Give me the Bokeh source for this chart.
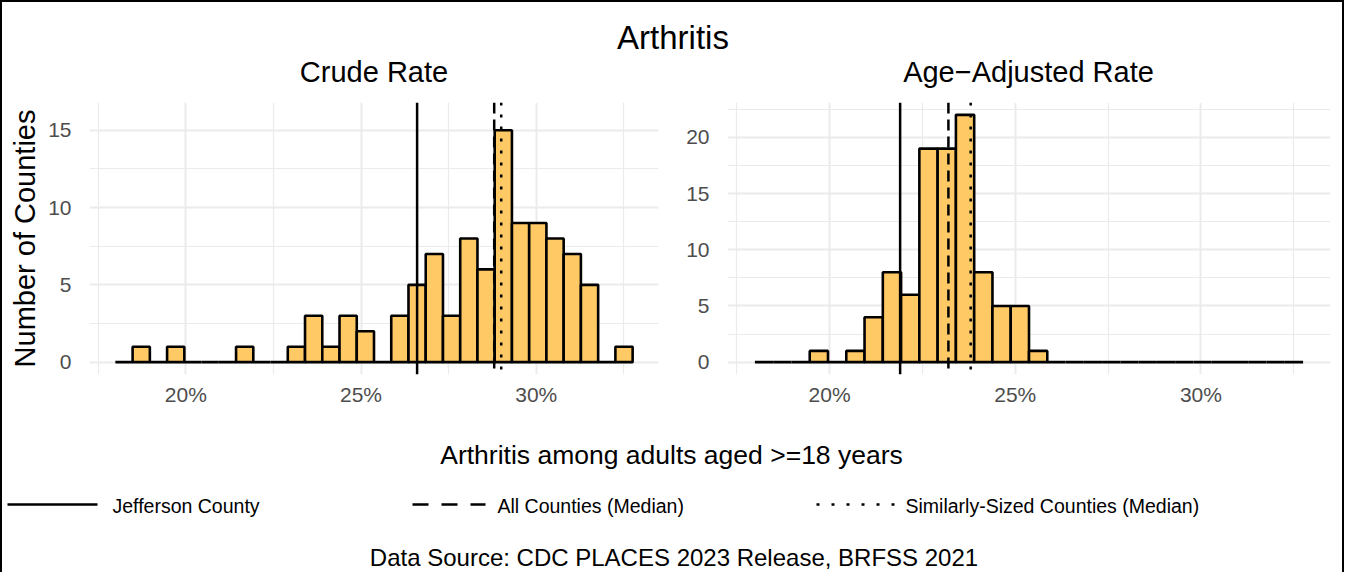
import numpy as np
from bokeh.plotting import figure
from bokeh.layouts import column, row
from bokeh.models import Range1d, FixedTicker, Span, ColumnDataSource
from bokeh.core.properties import value
from bokeh.embed import file_html
from bokeh.resources import INLINE

# ---------------- data ----------------
main_title = "Arthritis"
panel_titles = ["Crude Rate", "Age\u2212Adjusted Rate"]
x_title = "Arthritis among adults aged >=18 years"
y_title = "Number of Counties"
caption = "Data Source: CDC PLACES 2023 Release, BRFSS 2021"
legend_labels = ["Jefferson County", "All Counties (Median)", "Similarly-Sized Counties (Median)"]

bin_min = 17.99
bin_max = 32.75
crude_counts = [0, 1, 0, 1, 0, 0, 0, 1, 0, 0, 1, 3, 1, 3, 2, 0, 3, 5, 7, 3,
                8, 6, 15, 9, 9, 8, 7, 5, 0, 1]
age_adj_counts = [0, 0, 0, 1, 0, 1, 4, 8, 6, 19, 19, 22, 8, 5, 5, 1, 0, 0, 0, 0,
                  0, 0, 0, 0, 0, 0, 0, 0, 0, 0]
# reference lines: Jefferson County, All Counties median, Similarly-sized median
crude_lines = [26.6, 28.8, 29.0]
age_adj_lines = [21.9, 23.2, 23.8]
y_upper = [16, 22]

x_ticks = [20, 25, 30]
x_tick_labels = ["20%", "25%", "30%"]
x_minor = [17.5, 22.5, 27.5, 32.5]
crude_y_ticks = [0, 5, 10, 15]
crude_y_minor = [2.5, 7.5, 12.5]
adj_y_ticks = [0, 5, 10, 15, 20]
adj_y_minor = [2.5, 7.5, 12.5, 17.5, 22.5]

# ---------------- style ----------------
FONT = "Liberation Sans"
BAR = "#FFC966"
GRID = "#EBEBEB"
DASHES = ["solid", "11 6", "3 9"]
LEG_DASHES = ["solid", "16 13", "3 12"]


def hist_fig(counts, lines, ymax, yticks, yminor, width, mbl, mbr, ylabel=None):
    edges = np.linspace(bin_min, bin_max, len(counts) + 1)
    src = ColumnDataSource(dict(left=edges[:-1], right=edges[1:],
                                top=counts, bottom=[0] * len(counts)))
    pad = 0.05 * (bin_max - bin_min)
    p = figure(width=width, height=320, output_backend="svg", toolbar_location=None,
               x_range=Range1d(bin_min - pad, bin_max + pad),
               y_range=Range1d(-0.05 * ymax, 1.05 * ymax),
               min_border_left=mbl, min_border_right=mbr,
               min_border_top=0, min_border_bottom=48)
    p.outline_line_color = None
    p.background_fill_color = "white"
    p.border_fill_color = "white"
    p.quad(source=src, left="left", right="right", top="top", bottom="bottom",
           fill_color=BAR, line_color="black", line_width=2.6)
    for v, d in zip(lines, DASHES):
        p.add_layout(Span(location=v, dimension="height", line_color="black",
                          line_width=2.5, line_dash=d))
    p.xaxis.ticker = FixedTicker(ticks=x_ticks, minor_ticks=x_minor)
    p.xaxis.major_label_overrides = dict(zip(x_ticks, x_tick_labels))
    p.yaxis.ticker = FixedTicker(ticks=yticks, minor_ticks=yminor)
    for ax in (p.xaxis, p.yaxis):
        ax.axis_line_color = None
        ax.major_tick_line_color = None
        ax.minor_tick_line_color = None
        ax.major_tick_out = 0
        ax.major_tick_in = 0
        ax.major_label_text_font = FONT
        ax.major_label_text_font_size = "21px"
        ax.major_label_text_color = "#4D4D4D"
    p.xaxis.major_label_standoff = 4
    p.yaxis.major_label_standoff = 14
    for g in (p.xgrid, p.ygrid):
        g.grid_line_color = GRID
        g.grid_line_width = 2
        g.minor_grid_line_color = GRID
        g.minor_grid_line_width = 1.2
    if ylabel:
        p.yaxis.axis_label = ylabel
        p.yaxis.axis_label_text_font = FONT
        p.yaxis.axis_label_text_font_size = "29px"
        p.yaxis.axis_label_text_font_style = "normal"
        p.yaxis.axis_label_text_color = "black"
        p.yaxis.axis_label_standoff = 4
    return p


def blank_fig(height, y_top, y_bottom):
    p = figure(width=1340, height=height, output_backend="svg", toolbar_location=None,
               x_range=Range1d(10, 1350), y_range=Range1d(y_bottom, y_top),
               x_axis_type=None, y_axis_type=None, min_border=0)
    p.outline_line_color = None
    p.grid.visible = False
    p.background_fill_color = "white"
    p.border_fill_color = "white"
    return p


def label(p, xs, ys, texts, size, align="center"):
    p.text(x=xs, y=ys, text=texts, text_font=value(FONT), text_font_size=size,
           text_align=align, text_baseline="middle", text_color="black")


# header with main title and panel titles
header = blank_fig(100, 10, 110)
label(header, [680.5], [45], [main_title], "33px")
label(header, [381.5, 1036], [79, 79], panel_titles, "29px")

left = hist_fig(crude_counts, crude_lines, y_upper[0], crude_y_ticks, crude_y_minor,
                670, 87, 14, ylabel=y_title)
right = hist_fig(age_adj_counts, age_adj_lines, y_upper[1], adj_y_ticks, adj_y_minor,
                 670, 55, 12)

# footer: x title, legend, caption
footer = blank_fig(150, 430, 580)
label(footer, [679], [462], [x_title], "26.5px")
leg_x0 = [15, 420, 824]
leg_x1 = [105, 493, 902]
leg_tx = [120, 505, 913]
for x0, x1, d in zip(leg_x0, leg_x1, LEG_DASHES):
    footer.segment(x0=[x0], y0=[512], x1=[x1], y1=[512], line_color="black",
                   line_width=2.5, line_dash=d)
label(footer, leg_tx, [513, 513, 513], legend_labels, "19.5px", align="left")
label(footer, [681.5], [565], [caption], "24px")

layout = column(header, row(left, right), footer,
                styles={"border-top": "2px solid black",
                        "border-left": "2px solid black",
                        "border-right": "2px solid black"})

open("out.html", "w").write(file_html(layout, INLINE))
